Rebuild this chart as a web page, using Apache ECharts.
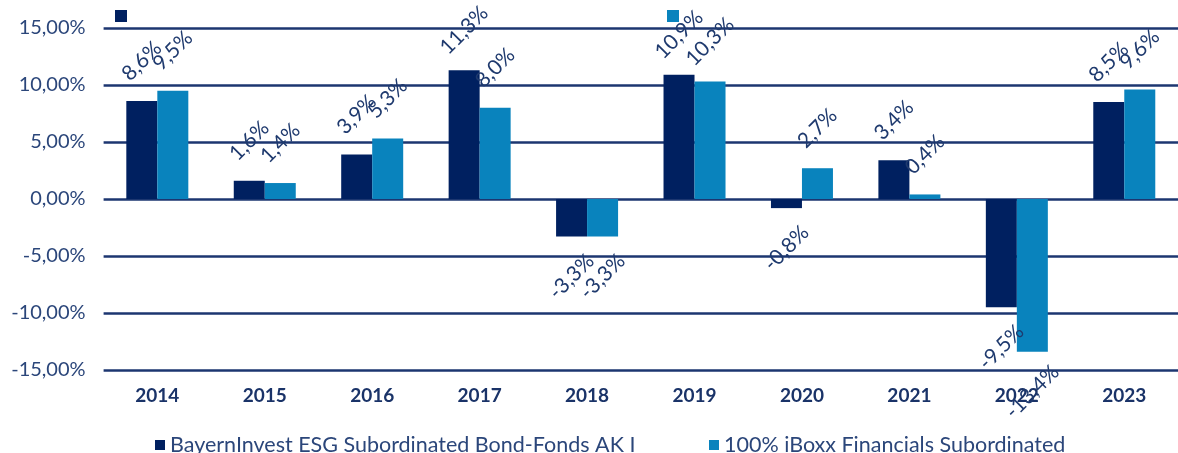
<!DOCTYPE html>
<html>
<head>
<meta charset="utf-8">
<script src="https://cdn.jsdelivr.net/npm/echarts@6/dist/echarts.min.js"></script>
<style>
html,body{margin:0;padding:0;background:#fff;}
#c{width:1178px;height:453px;}
</style>
</head>
<body>
<div id="c"></div>
<script>
const categories = ['2014','2015','2016','2017','2018','2019','2020','2021','2022','2023'];
const seriesNames = ['BayernInvest ESG Subordinated Bond-Fonds AK I', '100% iBoxx Financials Subordinated'];
const fundValues = [8.6, 1.6, 3.9, 11.3, -3.3, 10.9, -0.8, 3.4, -9.5, 8.5];
const indexValues = [9.5, 1.4, 5.3, 8.0, -3.3, 10.3, 2.7, 0.4, -13.4, 9.6];
const yMin = -15, yMax = 15, yStep = 5;

const DARK = '#002060';
const LIGHT = '#0983bd';
const TEXT = '#2b467a';
const LABEL = '#1f3a6e';
const GRID = '#1c3670';
const FONT = 'Lato';

function pct1(v){ return v.toFixed(1).replace('.', ',') + '%'; }
function pct2(v){ return v.toFixed(2).replace('.', ',') + '%'; }

function toData(arr){
  return arr.map(v => ({
    value: v,
    label: { position: v >= 0 ? 'top' : 'bottom' }
  }));
}

const barLabel = {
  show: true,
  rotate: 45,
  distance: 40,
  align: 'center',
  verticalAlign: 'middle',
  color: LABEL,
  fontFamily: FONT,
  fontSize: 21,
  formatter: p => pct1(p.value)
};

const legendText = { color: TEXT, fontFamily: FONT, fontSize: 21.5, lineHeight: 22 };

const chart = echarts.init(document.getElementById('c'), null, {renderer: 'canvas'});
chart.setOption({
  backgroundColor: '#fff',
  animation: false,
  grid: { left: 103.6, right: -12.6, top: 28, bottom: 83, containLabel: false },
  legend: [
    { data: [seriesNames[0]], left: 150, top: 429, itemWidth: 10, itemHeight: 10, icon: 'rect', itemGap: 0,
      selectedMode: false, textStyle: legendText },
    { data: [seriesNames[1]], left: 704, top: 429, itemWidth: 10, itemHeight: 10, icon: 'rect', itemGap: 0,
      selectedMode: false, textStyle: legendText },
    { data: [seriesNames[0]], left: 110, top: 5, itemWidth: 12, itemHeight: 12, icon: 'rect',
      selectedMode: false, formatter: () => '', textStyle: { fontSize: 1 } },
    { data: [seriesNames[1]], left: 662, top: 5, itemWidth: 12, itemHeight: 12, icon: 'rect',
      selectedMode: false, formatter: () => '', textStyle: { fontSize: 1 } }
  ],
  xAxis: {
    type: 'category',
    data: categories,
    position: 'bottom',
    axisLine: { show: false, onZero: false },
    axisTick: { show: false },
    axisLabel: { color: '#1a3368', fontFamily: FONT, fontWeight: 'bold', fontSize: 19, margin: 16 }
  },
  yAxis: {
    type: 'value',
    min: yMin, max: yMax, interval: yStep,
    axisLine: { show: false },
    axisTick: { show: false },
    axisLabel: { color: TEXT, fontFamily: FONT, fontSize: 20, margin: 18, formatter: v => pct2(v) },
    splitLine: { show: true, lineStyle: { color: GRID, width: 2.5 } }
  },
  series: [
    { name: seriesNames[0], type: 'bar', data: toData(fundValues), barWidth: 31, barGap: '0%',
      itemStyle: { color: DARK }, label: barLabel },
    { name: seriesNames[1], type: 'bar', data: toData(indexValues), barWidth: 31, barGap: '0%',
      itemStyle: { color: LIGHT }, label: barLabel }
  ]
});
</script>
</body>
</html>
